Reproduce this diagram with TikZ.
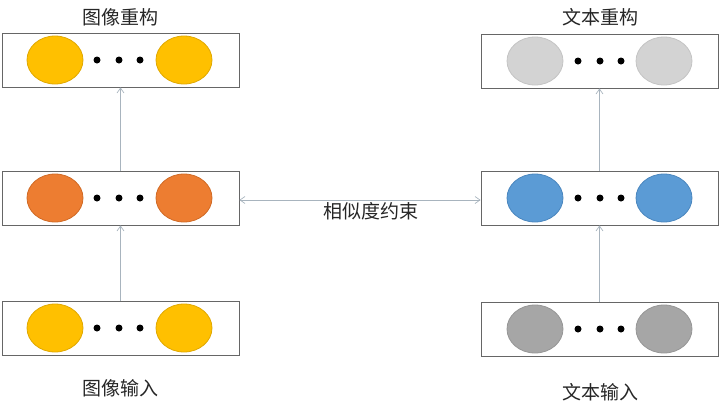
\documentclass[tikz,border=0pt]{standalone}
\usepackage{fontspec}
\newfontfamily\cjk{Noto Sans CJK SC}
\usetikzlibrary{arrows.meta,shapes.geometric}
\definecolor{cyel}{HTML}{FFC000}
\definecolor{cyelb}{HTML}{E0A800}
\definecolor{corg}{HTML}{ED7D31}
\definecolor{corgb}{HTML}{D06A25}
\definecolor{cblu}{HTML}{5B9BD5}
\definecolor{cblub}{HTML}{4A86BE}
\definecolor{clg}{HTML}{D3D3D3}
\definecolor{clgb}{HTML}{C4C4C4}
\definecolor{cdg}{HTML}{A6A6A6}
\definecolor{cdgb}{HTML}{969696}
\definecolor{cline}{HTML}{A8B4BE}
\tikzset{
  layerbox/.style={draw=gray!80!black, line width=0.8pt, minimum width=237pt, minimum height=54pt, inner sep=0pt},
  blob/.style={ellipse, minimum width=56pt, minimum height=48pt, inner sep=0pt, line width=0.8pt},
  dotc/.style={circle, fill=black, minimum size=7pt, inner sep=0pt},
  conn/.style={draw=cline, line width=0.7pt, -{Straight Barb[length=5pt,width=7pt]}},
  lbl/.style={font=\cjk\fontsize{19}{22}\selectfont, text=black!85}
}
\begin{document}
\begin{tikzpicture}[x=1pt,y=-1pt]
\useasboundingbox (0,0) rectangle (720,408);
% left column
\node[layerbox] (lt) at (120.5,60) {};
\node[layerbox] (lm) at (120.5,198) {};
\node[layerbox] (lb) at (120.5,328) {};
% right column
\node[layerbox] (rt) at (599.5,61) {};
\node[layerbox] (rm) at (599.5,198) {};
\node[layerbox] (rb) at (599.5,329) {};
% ellipses left
\foreach \n/\y/\f/\b in {lt/60/cyel/cyelb, lm/198/corg/corgb, lb/328/cyel/cyelb}{
  \node[blob, fill=\f, draw=\b] (\n a) at (55,\y) {};
  \node[blob, fill=\f, draw=\b] (\n b) at (184,\y) {};
  \node[dotc] (\n d1) at (97,\y) {};
  \node[dotc] (\n d2) at (119,\y) {};
  \node[dotc] (\n d3) at (140,\y) {};
}
\foreach \n/\y/\f/\b in {rt/61/clg/clgb, rm/198/cblu/cblub, rb/329/cdg/cdgb}{
  \node[blob, fill=\f, draw=\b] (\n a) at (535,\y) {};
  \node[blob, fill=\f, draw=\b] (\n b) at (664,\y) {};
  \node[dotc] (\n d1) at (578,\y) {};
  \node[dotc] (\n d2) at (600,\y) {};
  \node[dotc] (\n d3) at (621,\y) {};
}
% connectors
\draw[conn] (lb.north) -- (lm.south);
\draw[conn] (lm.north) -- (lt.south);
\draw[conn] (rb.north) -- (rm.south);
\draw[conn] (rm.north) -- (rt.south);
\draw[conn, {Straight Barb[length=5pt,width=7pt]}-{Straight Barb[length=5pt,width=7pt]}] ([yshift=-2pt]lm.east) -- ([yshift=-2pt]rm.west);
% labels
\node[lbl] (t1) at (120,17) {图像重构};
\node[lbl] (t2) at (600,17) {文本重构};
\node[lbl] (t3) at (120,388) {图像输入};
\node[lbl] (t4) at (600,392) {文本输入};
\node[lbl] (t5) at (371,211) {相似度约束};
\end{tikzpicture}
\end{document}
